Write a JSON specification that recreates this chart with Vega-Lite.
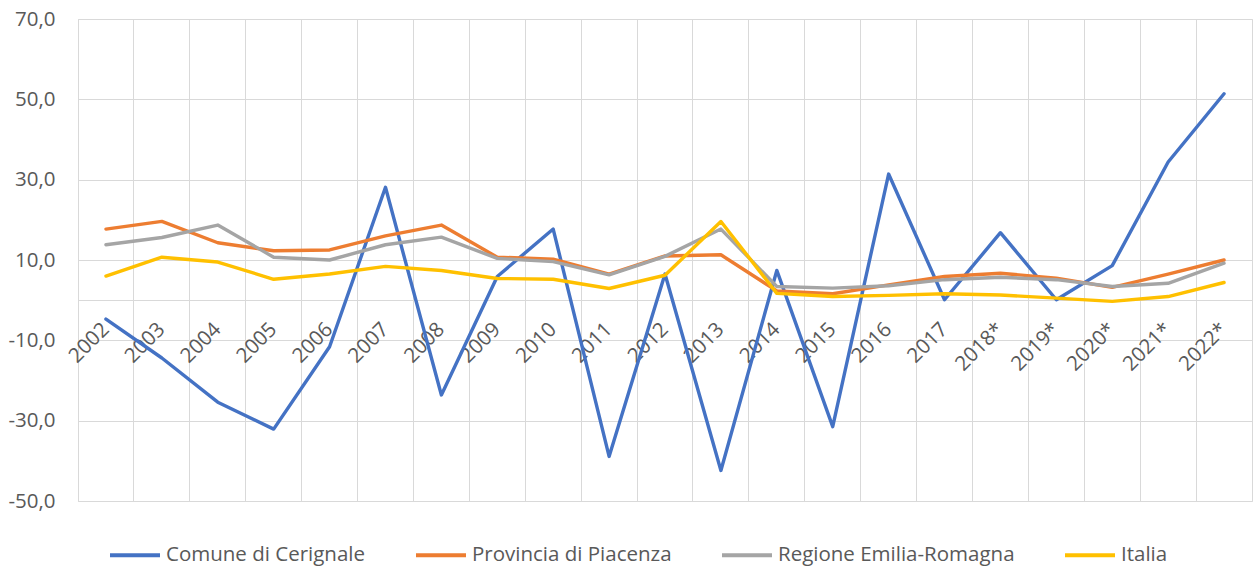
{
  "$schema": "https://vega.github.io/schema/vega-lite/v6.json",
  "autosize": {"type": "none"},
  "width": 1174,
  "height": 482,
  "padding": {"left": 78, "top": 19, "right": 1, "bottom": 69},
  "background": "white",
  "config": {
    "font": "Open Sans",
    "view": {"stroke": "#D9D9D9", "strokeWidth": 1}
  },
  "data": {"values": [
    {"anno": "2002", "serie": "Comune di Cerignale", "valore": -4.7},
    {"anno": "2003", "serie": "Comune di Cerignale", "valore": -14.4},
    {"anno": "2004", "serie": "Comune di Cerignale", "valore": -25.4},
    {"anno": "2005", "serie": "Comune di Cerignale", "valore": -32.1},
    {"anno": "2006", "serie": "Comune di Cerignale", "valore": -11.6},
    {"anno": "2007", "serie": "Comune di Cerignale", "valore": 28.1},
    {"anno": "2008", "serie": "Comune di Cerignale", "valore": -23.6},
    {"anno": "2009", "serie": "Comune di Cerignale", "valore": 5.9},
    {"anno": "2010", "serie": "Comune di Cerignale", "valore": 17.7},
    {"anno": "2011", "serie": "Comune di Cerignale", "valore": -38.9},
    {"anno": "2012", "serie": "Comune di Cerignale", "valore": 6.5},
    {"anno": "2013", "serie": "Comune di Cerignale", "valore": -42.4},
    {"anno": "2014", "serie": "Comune di Cerignale", "valore": 7.4},
    {"anno": "2015", "serie": "Comune di Cerignale", "valore": -31.5},
    {"anno": "2016", "serie": "Comune di Cerignale", "valore": 31.4},
    {"anno": "2017", "serie": "Comune di Cerignale", "valore": 0.1},
    {"anno": "2018*", "serie": "Comune di Cerignale", "valore": 16.8},
    {"anno": "2019*", "serie": "Comune di Cerignale", "valore": 0.1},
    {"anno": "2020*", "serie": "Comune di Cerignale", "valore": 8.6},
    {"anno": "2021*", "serie": "Comune di Cerignale", "valore": 34.4},
    {"anno": "2022*", "serie": "Comune di Cerignale", "valore": 51.4},
    {"anno": "2002", "serie": "Provincia di Piacenza", "valore": 17.7},
    {"anno": "2003", "serie": "Provincia di Piacenza", "valore": 19.6},
    {"anno": "2004", "serie": "Provincia di Piacenza", "valore": 14.3},
    {"anno": "2005", "serie": "Provincia di Piacenza", "valore": 12.3},
    {"anno": "2006", "serie": "Provincia di Piacenza", "valore": 12.5},
    {"anno": "2007", "serie": "Provincia di Piacenza", "valore": 16.0},
    {"anno": "2008", "serie": "Provincia di Piacenza", "valore": 18.7},
    {"anno": "2009", "serie": "Provincia di Piacenza", "valore": 10.7},
    {"anno": "2010", "serie": "Provincia di Piacenza", "valore": 10.2},
    {"anno": "2011", "serie": "Provincia di Piacenza", "valore": 6.5},
    {"anno": "2012", "serie": "Provincia di Piacenza", "valore": 11.0},
    {"anno": "2013", "serie": "Provincia di Piacenza", "valore": 11.3},
    {"anno": "2014", "serie": "Provincia di Piacenza", "valore": 2.3},
    {"anno": "2015", "serie": "Provincia di Piacenza", "valore": 1.6},
    {"anno": "2016", "serie": "Provincia di Piacenza", "valore": 3.8},
    {"anno": "2017", "serie": "Provincia di Piacenza", "valore": 5.9},
    {"anno": "2018*", "serie": "Provincia di Piacenza", "valore": 6.7},
    {"anno": "2019*", "serie": "Provincia di Piacenza", "valore": 5.5},
    {"anno": "2020*", "serie": "Provincia di Piacenza", "valore": 3.2},
    {"anno": "2021*", "serie": "Provincia di Piacenza", "valore": 6.5},
    {"anno": "2022*", "serie": "Provincia di Piacenza", "valore": 10.0},
    {"anno": "2002", "serie": "Regione Emilia-Romagna", "valore": 13.8},
    {"anno": "2003", "serie": "Regione Emilia-Romagna", "valore": 15.6},
    {"anno": "2004", "serie": "Regione Emilia-Romagna", "valore": 18.7},
    {"anno": "2005", "serie": "Regione Emilia-Romagna", "valore": 10.7},
    {"anno": "2006", "serie": "Regione Emilia-Romagna", "valore": 10.0},
    {"anno": "2007", "serie": "Regione Emilia-Romagna", "valore": 13.8},
    {"anno": "2008", "serie": "Regione Emilia-Romagna", "valore": 15.7},
    {"anno": "2009", "serie": "Regione Emilia-Romagna", "valore": 10.4},
    {"anno": "2010", "serie": "Regione Emilia-Romagna", "valore": 9.6},
    {"anno": "2011", "serie": "Regione Emilia-Romagna", "valore": 6.3},
    {"anno": "2012", "serie": "Regione Emilia-Romagna", "valore": 10.9},
    {"anno": "2013", "serie": "Regione Emilia-Romagna", "valore": 17.7},
    {"anno": "2014", "serie": "Regione Emilia-Romagna", "valore": 3.4},
    {"anno": "2015", "serie": "Regione Emilia-Romagna", "valore": 3.0},
    {"anno": "2016", "serie": "Regione Emilia-Romagna", "valore": 3.6},
    {"anno": "2017", "serie": "Regione Emilia-Romagna", "valore": 5.1},
    {"anno": "2018*", "serie": "Regione Emilia-Romagna", "valore": 5.7},
    {"anno": "2019*", "serie": "Regione Emilia-Romagna", "valore": 5.1},
    {"anno": "2020*", "serie": "Regione Emilia-Romagna", "valore": 3.4},
    {"anno": "2021*", "serie": "Regione Emilia-Romagna", "valore": 4.2},
    {"anno": "2022*", "serie": "Regione Emilia-Romagna", "valore": 9.2},
    {"anno": "2002", "serie": "Italia", "valore": 6.0},
    {"anno": "2003", "serie": "Italia", "valore": 10.7},
    {"anno": "2004", "serie": "Italia", "valore": 9.5},
    {"anno": "2005", "serie": "Italia", "valore": 5.2},
    {"anno": "2006", "serie": "Italia", "valore": 6.5},
    {"anno": "2007", "serie": "Italia", "valore": 8.4},
    {"anno": "2008", "serie": "Italia", "valore": 7.4},
    {"anno": "2009", "serie": "Italia", "valore": 5.4},
    {"anno": "2010", "serie": "Italia", "valore": 5.2},
    {"anno": "2011", "serie": "Italia", "valore": 2.9},
    {"anno": "2012", "serie": "Italia", "valore": 6.2},
    {"anno": "2013", "serie": "Italia", "valore": 19.6},
    {"anno": "2014", "serie": "Italia", "valore": 1.7},
    {"anno": "2015", "serie": "Italia", "valore": 0.9},
    {"anno": "2016", "serie": "Italia", "valore": 1.2},
    {"anno": "2017", "serie": "Italia", "valore": 1.6},
    {"anno": "2018*", "serie": "Italia", "valore": 1.3},
    {"anno": "2019*", "serie": "Italia", "valore": 0.5},
    {"anno": "2020*", "serie": "Italia", "valore": -0.3},
    {"anno": "2021*", "serie": "Italia", "valore": 0.9},
    {"anno": "2022*", "serie": "Italia", "valore": 4.4}
  ]},
  "mark": {"type": "line", "strokeWidth": 3.4, "strokeJoin": "round", "strokeCap": "round"},
  "encoding": {
    "x": {
      "field": "anno",
      "type": "nominal",
      "sort": null,
      "bandPosition": 0.5,
      "scale": {"type": "band", "paddingInner": 0, "paddingOuter": 0},
      "axis": {
        "title": null,
        "bandPosition": 0,
        "offset": -201,
        "domain": true,
        "domainColor": "#D9D9D9",
        "domainWidth": 1,
        "ticks": false,
        "tickSize": 0,
        "grid": true,
        "gridColor": "#D9D9D9",
        "gridWidth": 1,
        "labelAngle": -45,
        "labelAlign": "right",
        "labelBaseline": "middle",
        "labelOffset": 0,
        "labelPadding": 26,
        "labelFontSize": 20.5,
        "labelColor": "#595959",
        "labelFont": "Open Sans",
        "labelOverlap": false,
        "labelBound": false,
        "labelFlush": false
      }
    },
    "y": {
      "field": "valore",
      "type": "quantitative",
      "scale": {"domain": [-50, 70], "nice": false, "zero": false},
      "axis": {
        "title": null,
        "values": [-50, -30, -10, 10, 30, 50, 70],
        "labelExpr": "replace(replace(format(datum.value, '.1f'), '.', ','), '\u2212', '-')",
        "domain": false,
        "ticks": false,
        "grid": true,
        "gridColor": "#D9D9D9",
        "gridWidth": 1,
        "labelPadding": 23,
        "labelFontSize": 20.5,
        "labelColor": "#595959",
        "labelFont": "Open Sans",
        "labelFlush": false
      }
    },
    "color": {
      "field": "serie",
      "type": "nominal",
      "sort": null,
      "scale": {
        "domain": ["Comune di Cerignale", "Provincia di Piacenza", "Regione Emilia-Romagna", "Italia"],
        "range": ["#4472C4", "#ED7D31", "#A5A5A5", "#FFC000"]
      },
      "legend": {
        "title": null,
        "orient": "none",
        "direction": "horizontal",
        "legendX": 30,
        "legendY": 509,
        "padding": 0,
        "symbolType": "stroke",
        "symbolSize": 2500,
        "symbolStrokeWidth": 4,
        "labelOffset": 4,
        "columnPadding": 42,
        "labelFontSize": 20.5,
        "labelColor": "#595959",
        "labelFont": "Open Sans",
        "labelLimit": 400
      }
    }
  }
}
